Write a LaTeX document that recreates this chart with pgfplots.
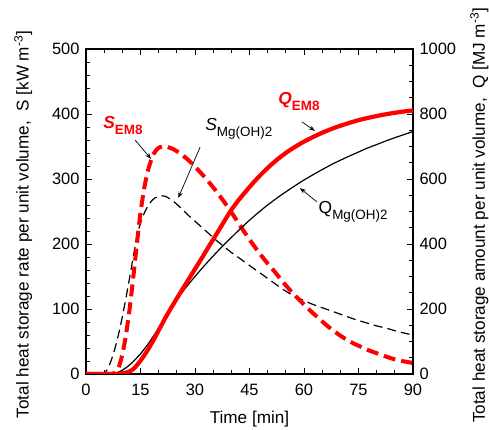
\documentclass[border=0pt]{standalone}
\usepackage{fontspec}
\setmainfont{Liberation Sans}
\usepackage{pgfplots}
\pgfplotsset{compat=1.18}
\usetikzlibrary{arrows.meta}

% S in kW m^-3 (left axis), Q in MJ m^-3 (right axis); t in min
\pgfplotstableread{
t S
0 0
5 0
6 0
7 0
8 2
9 10
10 30
11 60
12 100
13 148
14 200
15 248
16 285
17 312
18 330
19 342
20 348
21 350
22 350
24 346
26 339
28 330
30 319
32 307
34 294
36 280
38 265
40 249
42 232
44 215
46 199
48 184
50 170
52 157
54 143
56 130
58 118
60 107
62 96
64 86
66 76
68 67
70 59
72 52
74 46
76 41
78 36
80 32
83 26
86 21
90 17
}\sEM

\pgfplotstableread{
t S
0 0
3 0
4 0
5 1
6 8
7 22
8 40
9 62
10 88
11 117
12 148
13 180
14 211
15 232
16 247
17 258
18 266
19 271
20 273
21 274
22 273
24 266
26 256
28 245
30 235
32 225
34 215
36 205
38 196
40 187
42 179
44 171
46 163
48 155
50 147
52 139
54 131
56 124
58 118
60 113
62 108
65 102
68 96
71 90
74 84
77 79
80 74
83 70
86 65
90 60
}\sMg

\pgfplotstableread{
t Q
0 0
6 0
8 0
9 0
10 2
11 4
12 8
13 15
14 27
15 41
16 57
17 74
18 93
19 113
20 134
21 155
22 176
24 214
26 251
28 287
30 323
32 359
34 396
36 432
38 469
40 505
42 535
44 562
46 588
48 612
50 634
52 654
54 672
56 688
58 702
60 715
63 732
66 747
69 760
72 771
75 781
78 789
81 796
84 802
87 807
90 811
}\qEM

\pgfplotstableread{
t Q
0 0
5 0
7 0
8 2
9 6
10 12
11 19
12 28
13 38
14 50
15 62
16 76
17 91
18 107
19 124
20 142
21 160
22 178
24 212
26 244
28 273
30 300
32 326
34 351
36 375
38 398
40 420
42 442
44 463
46 483
48 502
50 520
53 545
56 568
59 590
62 610
65 629
68 647
71 663
74 678
77 693
80 706
83 719
86 731
90 746
}\qMg

\begin{document}
\begin{tikzpicture}
\pgfplotsset{
  every axis/.append style={
    scale only axis, width=327bp, height=325bp,
    xmin=0, xmax=90,
    axis line style={line width=1.1bp},
    tick style={black, line width=0.9bp},
    major tick length=6bp, minor tick length=4bp,
    tick align=inside,
    /pgf/number format/assume math mode=true,
    /pgf/number format/1000 sep={},
    tick label style={font=\fontsize{16.5}{19}\selectfont},
    label style={font=\fontsize{17.2}{20}\selectfont},
  }
}
\begin{axis}[
  name=ax,
  ymin=0, ymax=500,
  xtick={0,15,...,90}, minor x tick num=2,
  ytick={0,100,...,500}, minor y tick num=4,
  xtick pos=both, xticklabel pos=lower,
  ytick pos=left,
  xticklabel style={yshift=-7bp},
  yticklabel style={xshift=-3bp},
  xlabel={Time [min]},
  xlabel style={at={(axis description cs:0.5,-0.14)}, anchor=center},
  ylabel={Total heat storage rate per unit volume,\ \ S [kW m\textsuperscript{-3}]},
  ylabel style={at={(axis description cs:-0.192,0.46)}, anchor=center},
]
\addplot[black, line width=1.2bp, dash pattern=on 9bp off 5bp, smooth, tension=0.4] table[x=t,y=S] {\sMg};
\addplot[red, line width=4bp, dash pattern=on 12bp off 6bp, smooth, tension=0.4] table[x=t,y=S] {\sEM};

\node[anchor=base west, inner sep=0, text=red] at (axis cs:4.7,377)
  {\fontsize{17.5}{20}\selectfont\textbf{\textit{S}}\raisebox{-6bp}{\fontsize{13.5}{16}\selectfont\textbf{EM8}}};
\draw[black, line width=0.7bp, -{Stealth[length=6bp,width=4.5bp]}] (axis cs:13.5,360) -- (axis cs:17.9,331);

\node[anchor=base west, inner sep=0] at (axis cs:32.8,374)
  {\fontsize{17.5}{20}\selectfont\textit{S}\raisebox{-6bp}{\fontsize{13.5}{16}\selectfont Mg(OH)2}};
\draw[black, line width=0.7bp, -{Stealth[length=6bp,width=4.5bp]}] (axis cs:31.4,349) -- (axis cs:25.4,271);

\node[anchor=base west, inner sep=0, text=red] at (axis cs:52.9,414)
  {\fontsize{17.5}{20}\selectfont\textbf{\textit{Q}}\raisebox{-6bp}{\fontsize{13.5}{16}\selectfont\textbf{EM8}}};
\draw[black, line width=0.7bp, -{Stealth[length=6bp,width=4.5bp]}] (axis cs:59.4,388) -- (axis cs:63.0,374);

\node[anchor=base west, inner sep=0] at (axis cs:64.0,247)
  {\fontsize{17.5}{20}\selectfont Q\raisebox{-6bp}{\fontsize{13.5}{16}\selectfont Mg(OH)2}};
\draw[black, line width=0.7bp, -{Stealth[length=6bp,width=4.5bp]}] (axis cs:63.5,265) -- (axis cs:58.9,286);
\end{axis}

\begin{axis}[
  ymin=0, ymax=1000,
  ytick={0,200,...,1000}, minor y tick num=3,
  axis x line=none,
  axis y line*=right,
  ytick pos=right, yticklabel pos=right,
  yticklabel style={xshift=3bp},
  ylabel={Total heat storage amount per unit volume,\ \ Q [MJ m\textsuperscript{-3}]},
  ylabel style={at={(axis description cs:1.203,0.488)}, anchor=center},
]
\addplot[black, line width=1.2bp, smooth, tension=0.4] table[x=t,y=Q] {\qMg};
\addplot[red, line width=4.2bp, smooth, tension=0.4] table[x=t,y=Q] {\qEM};
\end{axis}

\pgfresetboundingbox
\path[use as bounding box] (-86bp,-56bp) rectangle (403bp,374bp);
\end{tikzpicture}
\end{document}
